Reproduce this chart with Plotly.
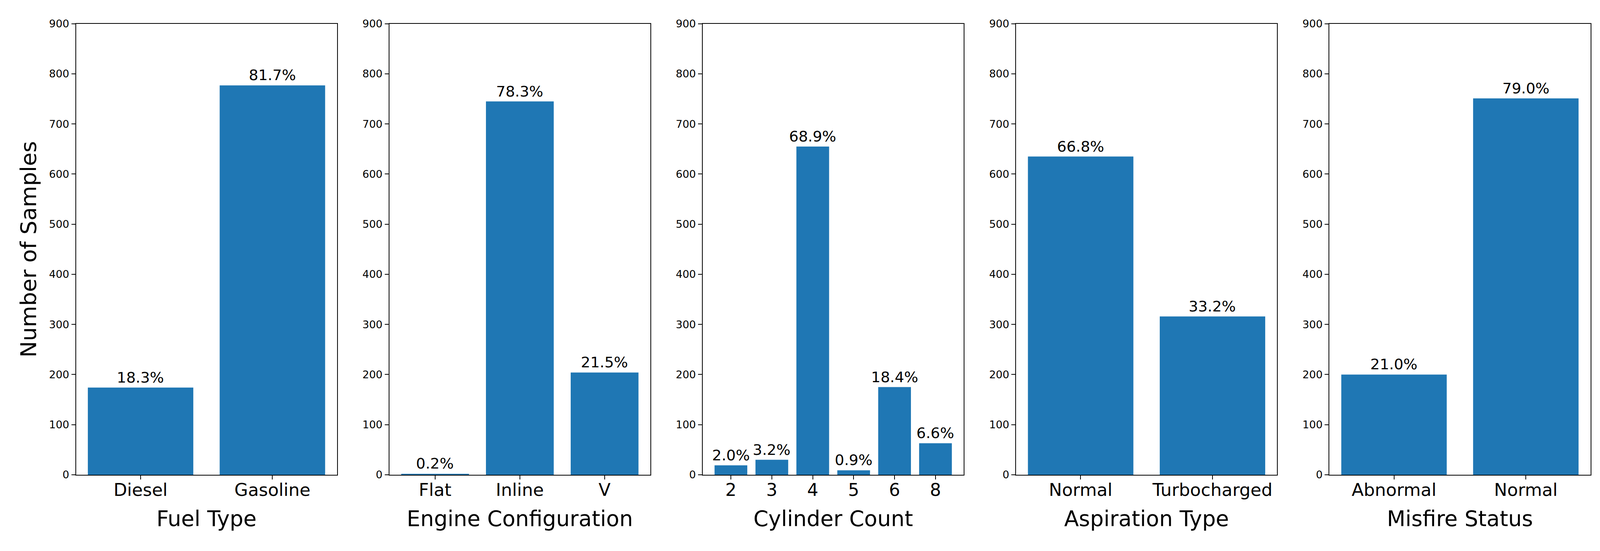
import plotly.graph_objects as go
from plotly.subplots import make_subplots

# sample counts per category (N = 951)
fuel_types = ["Diesel", "Gasoline"]
fuel_counts = [174, 777]

engine_configs = ["Flat", "Inline", "V"]
engine_counts = [2, 745, 204]

cylinders = ["2", "3", "4", "5", "6", "8"]
cylinder_counts = [19, 30, 655, 9, 175, 63]

aspiration_types = ["Normal", "Turbocharged"]
aspiration_counts = [635, 316]

misfire_status = ["Abnormal", "Normal"]
misfire_counts = [200, 751]

y_ticks = [0, 100, 200, 300, 400, 500, 600, 700, 800, 900]

panels = [
    ("Fuel Type", fuel_types, fuel_counts),
    ("Engine Configuration", engine_configs, engine_counts),
    ("Cylinder Count", cylinders, cylinder_counts),
    ("Aspiration Type", aspiration_types, aspiration_counts),
    ("Misfire Status", misfire_status, misfire_counts),
]

# page is 4142x1410, body has the browser's default 8px margin
BODY = 8
W, H = 4142 - 2 * BODY, 1410 - 2 * BODY
FONT = "DejaVu Sans"
BLUE = "#1f77b4"

fig = make_subplots(rows=1, cols=len(panels))

# axes box positions, in page pixels
left0, step, width = 194.5, 802.2, 668.2
bottom, top = 1215, 60.7

for i, (title, cats, counts) in enumerate(panels):
    col = i + 1
    total = sum(counts)
    fig.add_trace(
        go.Bar(x=cats, y=counts, marker_color=BLUE, marker_line_width=0,
               width=0.8, showlegend=False, hoverinfo="x+y"),
        row=1, col=col,
    )
    xref = "x" if col == 1 else f"x{col}"
    yref = "y" if col == 1 else f"y{col}"
    for j, v in enumerate(counts):
        fig.add_annotation(
            x=j, y=v, xref=xref, yref=yref,
            text=f"{v / total * 100:.1f}%", showarrow=False,
            yanchor="bottom", yshift=2,
            font=dict(family=FONT, size=38, color="black"),
        )

    n = len(cats)
    pad = 0.05 * (n - 0.2)
    x0 = left0 + i * step - BODY
    fig.update_xaxes(
        type="category", range=[-0.4 - pad, n - 0.6 + pad],
        domain=[x0 / W, (x0 + width) / W],
        title=dict(text=title, font=dict(family=FONT, size=55, color="black"), standoff=28),
        tickfont=dict(family=FONT, size=45, color="black"),
        ticks="outside", ticklen=10, tickwidth=2, tickcolor="black",
        ticklabelstandoff=-12,
        showline=True, linewidth=2, linecolor="black", mirror=True,
        showgrid=False, zeroline=False, automargin=False,
        row=1, col=col,
    )
    fig.update_yaxes(
        range=[0, 900], tickvals=y_ticks,
        domain=[(H - (bottom - BODY)) / H, (H - (top - BODY)) / H],
        tickfont=dict(family=FONT, size=27, color="black"),
        ticks="outside", ticklen=10, tickwidth=2, tickcolor="black",
        showline=True, linewidth=2, linecolor="black", mirror=True,
        showgrid=False, zeroline=False, automargin=False,
        row=1, col=col,
    )

fig.update_yaxes(
    title=dict(text="Number of Samples", font=dict(family=FONT, size=56, color="black"), standoff=15),
    row=1, col=1,
)

fig.update_layout(
    width=W, height=H,
    margin=dict(l=0, r=0, t=0, b=0),
    plot_bgcolor="white", paper_bgcolor="white",
    font=dict(family=FONT, color="black"),
)

fig.write_html("out.html")
